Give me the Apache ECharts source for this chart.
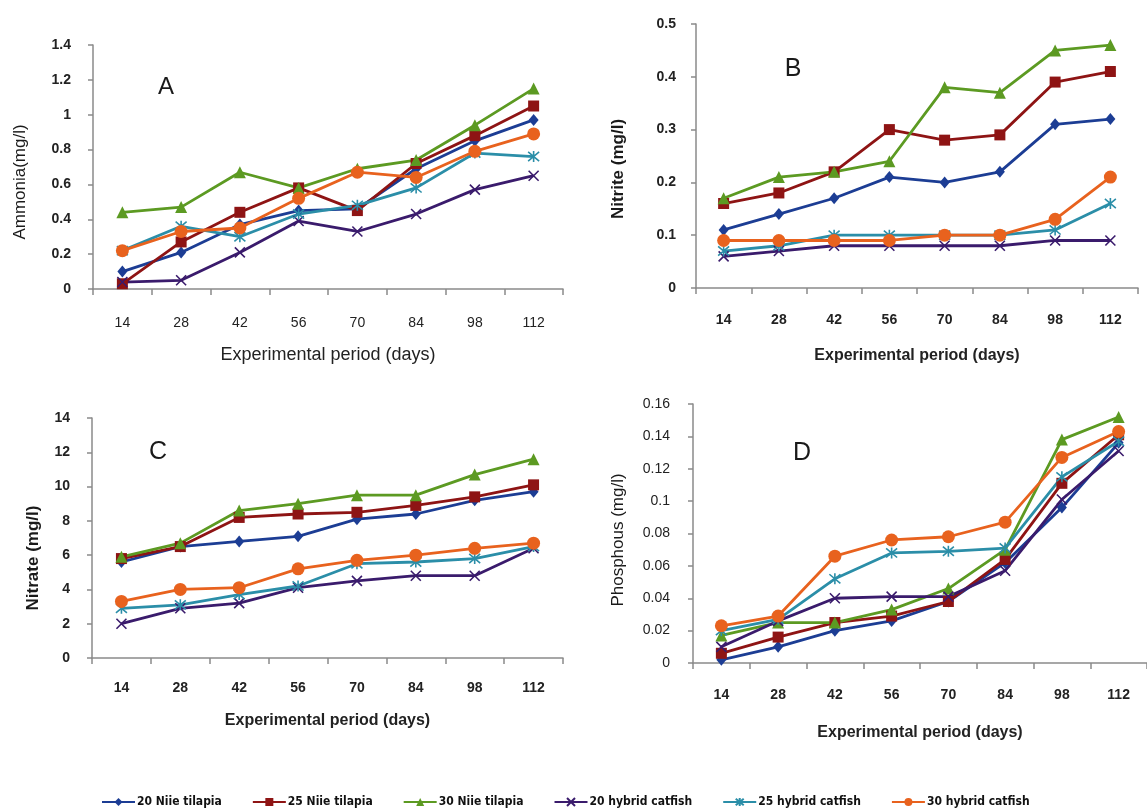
<!DOCTYPE html>
<html>
<head>
<meta charset="utf-8">
<script src="https://cdn.jsdelivr.net/npm/echarts@6/dist/echarts.min.js"></script>
<style>
  html, body { margin: 0; padding: 0; background: #fff; }
  #chart { width: 1147px; height: 812px; }
</style>
</head>
<body>
<div id="chart"></div>
<script>
// x categories (days)
let days = ['14', '28', '42', '56', '70', '84', '98', '112'];
let seriesNames = ['20 Niie tilapia', '25 Niie tilapia', '30 Niie tilapia', '20 hybrid catfish', '25 hybrid catfish', '30 hybrid catfish'];

// A - Ammonia
let ammNT20 = [0.10, 0.21, 0.37, 0.45, 0.46, 0.69, 0.85, 0.97];
let ammNT25 = [0.03, 0.27, 0.44, 0.58, 0.45, 0.72, 0.88, 1.05];
let ammNT30 = [0.44, 0.47, 0.67, 0.58, 0.69, 0.74, 0.94, 1.15];
let ammHC20 = [0.04, 0.05, 0.21, 0.39, 0.33, 0.43, 0.57, 0.65];
let ammHC25 = [0.22, 0.36, 0.30, 0.43, 0.48, 0.58, 0.78, 0.76];
let ammHC30 = [0.22, 0.33, 0.35, 0.52, 0.67, 0.64, 0.79, 0.89];

// B - Nitrite
let nitiNT20 = [0.11, 0.14, 0.17, 0.21, 0.20, 0.22, 0.31, 0.32];
let nitiNT25 = [0.16, 0.18, 0.22, 0.30, 0.28, 0.29, 0.39, 0.41];
let nitiNT30 = [0.17, 0.21, 0.22, 0.24, 0.38, 0.37, 0.45, 0.46];
let nitiHC20 = [0.06, 0.07, 0.08, 0.08, 0.08, 0.08, 0.09, 0.09];
let nitiHC25 = [0.07, 0.08, 0.10, 0.10, 0.10, 0.10, 0.11, 0.16];
let nitiHC30 = [0.09, 0.09, 0.09, 0.09, 0.10, 0.10, 0.13, 0.21];

// C - Nitrate
let nitaNT20 = [5.6, 6.5, 6.8, 7.1, 8.1, 8.4, 9.2, 9.7];
let nitaNT25 = [5.8, 6.5, 8.2, 8.4, 8.5, 8.9, 9.4, 10.1];
let nitaNT30 = [5.9, 6.7, 8.6, 9.0, 9.5, 9.5, 10.7, 11.6];
let nitaHC20 = [2.0, 2.9, 3.2, 4.1, 4.5, 4.8, 4.8, 6.4];
let nitaHC25 = [2.9, 3.1, 3.7, 4.2, 5.5, 5.6, 5.8, 6.5];
let nitaHC30 = [3.3, 4.0, 4.1, 5.2, 5.7, 6.0, 6.4, 6.7];

// D - Phosphorus
let phosNT20 = [0.002, 0.010, 0.020, 0.026, 0.038, 0.062, 0.096, 0.136];
let phosNT25 = [0.006, 0.016, 0.025, 0.029, 0.038, 0.064, 0.111, 0.141];
let phosNT30 = [0.017, 0.025, 0.025, 0.033, 0.046, 0.070, 0.138, 0.152];
let phosHC20 = [0.010, 0.026, 0.040, 0.041, 0.041, 0.057, 0.101, 0.131];
let phosHC25 = [0.020, 0.027, 0.052, 0.068, 0.069, 0.071, 0.115, 0.137];
let phosHC30 = [0.023, 0.029, 0.066, 0.076, 0.078, 0.087, 0.127, 0.143];

let panelData = [
    [ammNT20, ammNT25, ammNT30, ammHC20, ammHC25, ammHC30],
    [nitiNT20, nitiNT25, nitiNT30, nitiHC20, nitiHC25, nitiHC30],
    [nitaNT20, nitaNT25, nitaNT30, nitaHC20, nitaHC25, nitaHC30],
    [phosNT20, phosNT25, phosNT30, phosHC20, phosHC25, phosHC30]
];

let colors = ['#1c3d94', '#8e1414', '#5c9a22', '#3a1b6c', '#2b8ea8', '#e8621e'];
let xMark = 'path://M0,0L10,10M10,0L0,10';
let starMark = 'path://M0,0L10,10M10,0L0,10M5,-1L5,11';
let symbols = ['diamond', 'rect', 'triangle', xMark, starMark, 'circle'];
let symbolSizes = [[10, 12], 11, 12, 10, 11, 13];

let fontFam = "'Liberation Sans', Arial, sans-serif";

// layout of the four panels
let grids = [
    { left: 93, top: 45, width: 470, height: 244 },
    { left: 696, top: 24, width: 442, height: 264 },
    { left: 92, top: 418, width: 471, height: 240 },
    { left: 693, top: 404, width: 462, height: 259 }
];
let yRange = [[0, 1.4, 0.2], [0, 0.5, 0.1], [0, 14, 2], [0, 0.16, 0.02]];
let xLabelMargin = [27, 25, 23, 25];
let xNameGap = [57, 60, 55, 62];
let xNameStyle = [
    { fontSize: 18, fontWeight: 'normal' },
    { fontSize: 16, fontWeight: 'bold' },
    { fontSize: 16, fontWeight: 'bold' },
    { fontSize: 16, fontWeight: 'bold' }
];
let yLabelWeight = ['bold', 'bold', 'bold', 'normal'];
let xLabelWeight = ['normal', 'bold', 'bold', 'bold'];
let yLabelMargin = [22, 20, 22, 23];

let xAxes = [], yAxes = [], series = [];
for (let p = 0; p < 4; p++) {
    xAxes.push({
        gridIndex: p,
        type: 'category',
        data: days,
        boundaryGap: true,
        name: 'Experimental period (days)',
        nameLocation: 'middle',
        nameGap: xNameGap[p],
        nameTextStyle: { color: '#222', fontFamily: fontFam, fontSize: xNameStyle[p].fontSize, fontWeight: xNameStyle[p].fontWeight },
        axisLine: { lineStyle: { color: '#8a8a8a', width: 1.5 } },
        axisTick: { show: true, length: 6, lineStyle: { color: '#8a8a8a', width: 1.5 } },
        axisLabel: { color: '#222', fontFamily: fontFam, fontSize: 14, fontWeight: xLabelWeight[p], margin: xLabelMargin[p] },
        splitLine: { show: false }
    });
    yAxes.push({
        gridIndex: p,
        type: 'value',
        min: yRange[p][0],
        max: yRange[p][1],
        interval: yRange[p][2],
        axisLine: { show: true, lineStyle: { color: '#8a8a8a', width: 1.5 } },
        axisTick: { show: true, length: 5, lineStyle: { color: '#8a8a8a', width: 1.5 } },
        axisLabel: { color: '#222', fontFamily: fontFam, fontSize: 14, fontWeight: yLabelWeight[p], margin: yLabelMargin[p] },
        splitLine: { show: false }
    });
    for (let s = 0; s < 6; s++) {
        let stroked = (s === 3 || s === 4);
        series.push({
            name: seriesNames[s],
            type: 'line',
            xAxisIndex: p,
            yAxisIndex: p,
            data: panelData[p][s],
            symbol: symbols[s],
            symbolSize: symbolSizes[s],
            showSymbol: true,
            animation: false,
            lineStyle: { color: colors[s], width: 2.8 },
            itemStyle: stroked
                ? { color: colors[s], borderColor: colors[s], borderWidth: 1.6 }
                : { color: colors[s] }
        });
    }
}

// panel letters and y axis titles
function label(text, x, y, size, weight, rotate) {
    return {
        type: 'text',
        x: x,
        y: y,
        rotation: rotate ? Math.PI / 2 : 0,
        style: {
            text: text,
            fill: '#1a1a1a',
            font: weight + ' ' + size + 'px ' + fontFam,
            align: 'center',
            verticalAlign: 'middle',
            textAlign: 'center',
            textVerticalAlign: 'middle'
        }
    };
}

let option = {
    backgroundColor: '#fff',
    animation: false,
    grid: grids,
    xAxis: xAxes,
    yAxis: yAxes,
    series: series,
    legend: {
        data: seriesNames,
        left: 96,
        top: 791,
        itemWidth: 33,
        itemHeight: 10,
        itemGap: 30,
        textStyle: { color: '#111', fontFamily: "'Liberation Sans Narrow', 'DejaVu Sans Condensed', sans-serif", fontSize: 12, fontWeight: 'bold', padding: [0, 0, 0, -3] }
    },
    graphic: [
        label('A', 166, 87, 24, 'normal', false),
        label('B', 793, 69, 25, 'normal', false),
        label('C', 158, 452, 25, 'normal', false),
        label('D', 802, 453, 25, 'normal', false),
        label('Ammonia(mg/l)', 20, 182, 17, 'normal', true),
        label('Nitrite (mg/l)', 618, 169, 17, 'bold', true),
        label('Nitrate (mg/l)', 33, 558, 17, 'bold', true),
        label('Phosphous (mg/l)', 618, 540, 17, 'normal', true)
    ]
};

let chart = echarts.init(document.getElementById('chart'));
chart.setOption(option);

window.onresize = function () {
    chart.resize();
};
</script>
</body>
</html>
